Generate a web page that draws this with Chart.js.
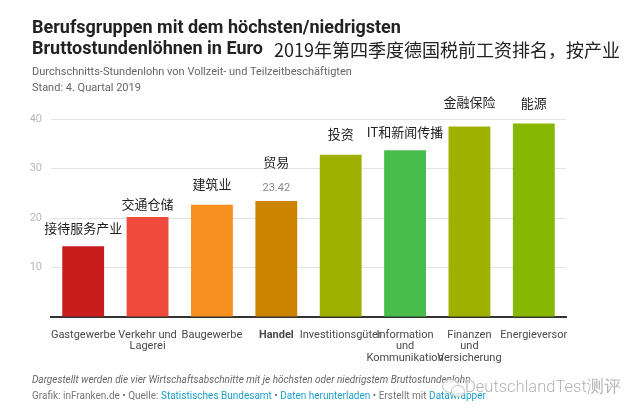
<!DOCTYPE html>
<html>
<head>
<meta charset="utf-8">
<script src="https://cdn.jsdelivr.net/npm/chart.js@4.4.1/dist/chart.umd.min.js"></script>
<style>
  html, body { margin: 0; padding: 0; background: #fff; }
  body { width: 640px; height: 414px; position: relative; overflow: hidden; font-family: Roboto, "Noto Sans", sans-serif; }
  #chart { position: absolute; left: 0; top: 0; }
  .txt { position: absolute; white-space: nowrap; }
  #title { left: 32px; top: 16px; font-size: 18px; font-weight: bold; line-height: 21px; color: #222; }
  #cnTitle { left: 274px; top: 40px; font-family: "Noto Sans CJK SC", sans-serif; font-size: 18px; line-height: 19px; color: #222; }
  #subtitle { left: 32px; top: 64px; font-size: 11px; line-height: 16px; color: #666; }
  #notes { left: 32px; top: 372px; font-size: 10px; line-height: 16px; color: #777; }
  #notes i { color: #666; }
  #notes a { color: #1d9fc9; text-decoration: none; }
  #mark { left: 465px; top: 377px; font-size: 16.5px; line-height: 20px; color: #b4b4b4; font-weight: 300;
          text-shadow: 0 0 2px #fff, 0 0 2px #fff; }
  .bub { position: absolute; border: 1px solid #c8c8c8; border-radius: 50%; background: rgba(255,255,255,0.7); }
</style>
</head>
<body>
<canvas id="chart" width="640" height="414"></canvas>

<div class="txt" id="title">Berufsgruppen mit dem höchsten/niedrigsten<br>Bruttostundenlöhnen in Euro</div>
<div class="txt" id="cnTitle">2019年第四季度德国税前工资排名，按产业</div>
<div class="txt" id="subtitle">Durchschnitts-Stundenlohn von Vollzeit- und Teilzeitbeschäftigten<br>Stand: 4. Quartal 2019</div>
<div class="txt" id="notes"><i>Dargestellt werden die vier Wirtschaftsabschnitte mit je höchsten oder niedrigstem Bruttostundenlohn</i><br>Grafik: inFranken.de • Quelle: <a>Statistisches Bundesamt</a> • <a>Daten herunterladen</a> • Erstellt mit <a>Datawrapper</a></div>
<div class="bub" style="left:442px; top:379px; width:15px; height:12px;"></div>
<div class="bub" style="left:451px; top:385px; width:12px; height:10px;"></div>
<div class="txt" id="mark">DeutschlandTest测评</div>

<script>
// Data
const categories = [
  "Gastgewerbe",
  ["Verkehr und", "Lagerei"],
  "Baugewerbe",
  "Handel",
  "Investitionsgüter",
  ["Information", "und", "Kommunikation"],
  ["Finanzen", "und", "Versicherung"],
  "Energieversor",
];
const wages = [14.3, 20.2, 22.7, 23.42, 32.8, 33.7, 38.5, 39.1];
const cnNotes = ["接待服务产业", "交通仓储", "建筑业", "贸易", "投资", "IT和新闻传播", "金融保险", "能源"];
const yTicks = [0, 10, 20, 30, 40];
const highlight = 3; // Handel

// Styles
const barColors = ["#c71e1d", "#ef4a3c", "#f8901f", "#cc8400", "#a0b000", "#48bd4c", "#a0b000", "#85b800"];
const noteLift = [18, 13, 21, 39, 21, 18, 24, 20];

// Chinese notes + value label above bars
const notesPlugin = {
  id: "notes",
  afterDatasetsDraw(chart) {
    const ctx = chart.ctx;
    const bars = chart.getDatasetMeta(0).data;
    ctx.save();
    ctx.textAlign = "center";
    ctx.textBaseline = "middle";
    bars.forEach((bar, i) => {
      ctx.fillStyle = "#222";
      ctx.font = '13px "Noto Sans CJK SC", sans-serif';
      ctx.fillText(cnNotes[i], bar.x, bar.y - noteLift[i]);
      if (i === highlight) {
        ctx.fillStyle = "#888";
        ctx.font = "11px Roboto, sans-serif";
        ctx.fillText(wages[i].toFixed(2), bar.x, bar.y - 13);
      }
    });
    ctx.restore();
  },
};

new Chart(document.getElementById("chart"), {
  type: "bar",
  data: {
    labels: categories,
    datasets: [
      {
        data: wages,
        backgroundColor: barColors,
        barPercentage: 0.65,
        categoryPercentage: 1,
      },
    ],
  },
  options: {
    responsive: false,
    animation: false,
    layout: { padding: { left: 0, right: 74, top: 119, bottom: 47 } },
    plugins: { legend: { display: false }, tooltip: { enabled: false } },
    scales: {
      x: {
        grid: { display: false },
        border: { color: "#333", width: 2 },
        afterFit: (s) => { s.height = 50; },
        ticks: {
          autoSkip: false,
          maxRotation: 0,
          minRotation: 0,
          padding: 4,
          color: "#494949",
          font: (c) => ({
            family: "Roboto",
            size: 11,
            lineHeight: 1.05,
            weight: c.index === highlight ? "bold" : "normal",
          }),
        },
      },
      y: {
        min: yTicks[0],
        max: yTicks[yTicks.length - 1],
        afterFit: (s) => { s.width = 51; },
        afterBuildTicks: (s) => { s.ticks = yTicks.map((v) => ({ value: v })); },
        border: { display: false },
        grid: { color: "#e3e3e3", lineWidth: 1, drawTicks: false },
        ticks: {
          padding: 9,
          color: "#b8b8b8",
          font: { family: "Roboto", size: 11 },
          callback: (v) => (v === 0 ? "" : v),
        },
      },
    },
  },
  plugins: [notesPlugin],
});
</script>
</body>
</html>
